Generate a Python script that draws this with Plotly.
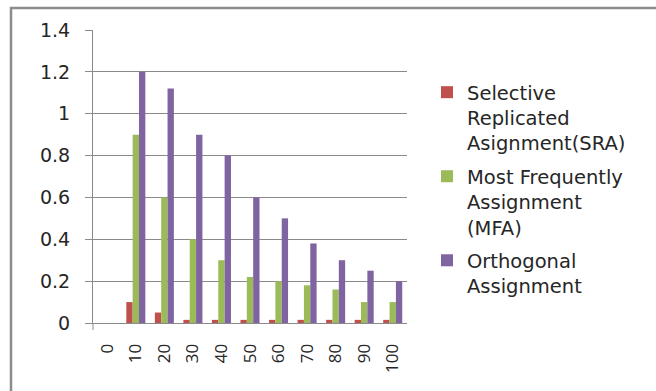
import plotly.graph_objects as go

categories = ["0", "10", "20", "30", "40", "50", "60", "70", "80", "90", "100"]
sra = [0, 0.10, 0.05, 0.015, 0.015, 0.015, 0.015, 0.015, 0.015, 0.015, 0.015]
mfa = [0, 0.90, 0.60, 0.40, 0.30, 0.22, 0.20, 0.18, 0.16, 0.10, 0.10]
orth = [0, 1.20, 1.12, 0.90, 0.80, 0.60, 0.50, 0.38, 0.30, 0.25, 0.20]
y_ticks = [0, 0.2, 0.4, 0.6, 0.8, 1.0, 1.2, 1.4]
y_tick_text = ["0", "0.2", "0.4", "0.6", "0.8", "1", "1.2", "1.4"]
series_names = ["Selective<br>Replicated<br>Asignment(SRA)",
                "Most Frequently<br>Assignment<br>(MFA)",
                "Orthogonal<br>Assignment"]
colors = ["#C0504D", "#9BBB59", "#8064A2"]
title_text = "Fig. 2(b)Path Dataset"

W, H = 656, 391
L, R, T, B = 93, 249, 30, 68
PW, PH = W - L - R, H - T - B

def px(p):
    return (p - L) / PW

def py(q):
    return (H - B - q) / PH

fig = go.Figure()
for name, vals, col, grp in zip(series_names, [sra, mfa, orth], colors, ["a", "b", "c"]):
    fig.add_trace(go.Bar(x=categories, y=vals, name=name, marker_color=col,
                         marker_line_width=0, legendgroup=grp))

grid = "#8a8a8a"
fig.update_layout(
    width=W, height=H,
    margin=dict(l=L, r=R, t=T, b=B),
    paper_bgcolor="white", plot_bgcolor="white",
    barmode="group", bargap=0.333, bargroupgap=0,
    showlegend=True,
    legend=dict(x=px(427), y=py(73), xanchor="left", yanchor="top",
                font=dict(family="DejaVu Sans", size=19.5, color="#262626"),
                traceorder="grouped", tracegroupgap=5, valign="top",
                bgcolor="rgba(0,0,0,0)"),
    xaxis=dict(type="category", showgrid=False, showline=True, linecolor=grid,
               linewidth=1, ticks="", tickangle=-90, ticklabelstandoff=13,
               tickfont=dict(family="Open Sans", size=17, color="#262626"),
               fixedrange=True),
    yaxis=dict(range=[0, 1.4], tickvals=y_ticks, ticktext=y_tick_text,
               showgrid=True, gridcolor=grid, gridwidth=1,
               showline=True, linecolor=grid, linewidth=1,
               ticks="outside", ticklen=7, tickcolor=grid,
               ticklabelstandoff=11, zeroline=False,
               tickfont=dict(family="DejaVu Sans", size=19, color="#262626")),
    font=dict(family="DejaVu Sans"),
    shapes=[
        dict(type="rect", xref="paper", yref="paper",
             x0=px(11), x1=px(700), y0=py(8), y1=py(430),
             line=dict(color="#8c8c8c", width=2.5), fillcolor="rgba(0,0,0,0)",
             layer="below"),
        dict(type="line", xref="paper", yref="paper",
             x0=0, x1=0, y0=py(323), y1=py(330),
             line=dict(color=grid, width=1)),
    ],
    annotations=[
        dict(text=title_text, xref="paper", yref="paper", x=px(333), y=py(2),
             xanchor="center", yanchor="bottom", showarrow=False,
             font=dict(family="Liberation Serif", size=24, color="#000000")),
    ],
)

fig.write_html("out.html")
